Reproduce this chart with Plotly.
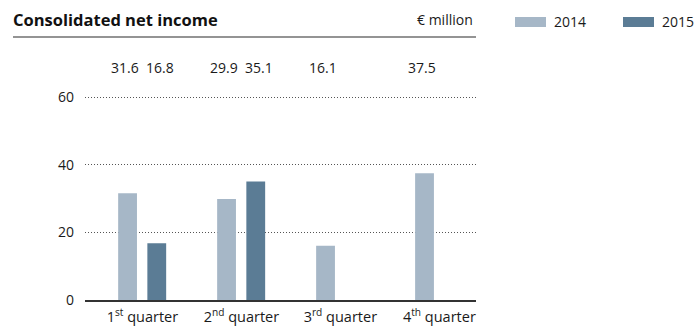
import plotly.graph_objects as go

# Quarterly consolidated net income, € million
quarters = ["1<sup>st</sup> quarter", "2<sup>nd</sup> quarter",
            "3<sup>rd</sup> quarter", "4<sup>th</sup> quarter"]
years = ["2014", "2015"]
income_2014 = [31.6, 29.9, 16.1, 37.5]
income_2015 = [16.8, 35.1, None, None]
y_ticks = [0, 20, 40, 60]

colors = {"2014": "#a6b7c7", "2015": "#5b7c95"}
FONT = "Open Sans"
TEXT = "#1a1a1a"

W, H = 696, 332
L, R, T, B = 85, 220, 94, 32
pw, ph = W - L - R, H - T - B


def px(x):
    """Pixel x -> paper x."""
    return (x - L) / pw


def py(y):
    """Pixel y (from top) -> paper y."""
    return (H - B - y) / ph


pos = list(range(len(quarters)))
bar_w = 0.19
offsets = {"2014": -0.245, "2015": 0.05}
series = {"2014": income_2014, "2015": income_2015}

fig = go.Figure()
for yr in years:
    fig.add_trace(go.Bar(
        x=pos, y=series[yr], width=bar_w, offset=offsets[yr],
        marker=dict(color=colors[yr], line=dict(width=0)),
        showlegend=False, hoverinfo="skip",
    ))

# Value labels in a row above the plot
label_shift = {"2014": -0.03, "2015": 0.03}
for yr in years:
    for p, v in zip(pos, series[yr]):
        if v is None:
            continue
        fig.add_annotation(
            x=p + offsets[yr] + bar_w / 2 + label_shift[yr], y=py(67),
            xref="x", yref="paper",
            text=f"{v:.1f}", showarrow=False, yanchor="middle",
            font=dict(family=FONT, size=14, color=TEXT),
        )

# Title, unit and the rule beneath them
fig.add_annotation(x=px(11), y=py(20), xref="paper", yref="paper",
                   text="<b>Consolidated net income</b>",
                   showarrow=False, xanchor="left", yanchor="middle",
                   font=dict(family=FONT, size=16.5, color="#111"))
fig.add_annotation(x=px(475), y=py(20), xref="paper", yref="paper", text="€ million",
                   showarrow=False, xanchor="right", yanchor="middle",
                   font=dict(family=FONT, size=14, color=TEXT))
fig.add_shape(type="line", xref="paper", yref="paper",
              x0=px(13), x1=px(476), y0=py(37), y1=py(37),
              line=dict(color="#707070", width=1.5))

# Legend drawn as swatches with labels
legend_x = {"2014": 515, "2015": 623}
for yr in years:
    x0 = legend_x[yr]
    fig.add_shape(type="rect", xref="paper", yref="paper",
                  x0=px(x0), x1=px(x0 + 31), y0=py(17), y1=py(27),
                  fillcolor=colors[yr], line=dict(width=0))
    fig.add_annotation(x=px(x0 + 37), y=py(22), xref="paper", yref="paper", text=yr,
                       showarrow=False, xanchor="left", yanchor="middle",
                       font=dict(family=FONT, size=14, color=TEXT))

fig.update_layout(
    width=W, height=H,
    margin=dict(l=L, r=R, t=T, b=B, autoexpand=False),
    paper_bgcolor="white", plot_bgcolor="white",
    font=dict(family=FONT, size=14, color=TEXT),
    barmode="overlay",
    xaxis=dict(
        range=[-0.58, 3.37], tickvals=pos, ticktext=quarters,
        showgrid=False, zeroline=False, showline=True,
        linecolor="#333", linewidth=1.5, ticks="", automargin=False,
        ticklabelstandoff=3,
        tickfont=dict(family=FONT, size=14.5, color=TEXT),
    ),
    yaxis=dict(
        range=[0, 61], tickvals=y_ticks, showgrid=True,
        gridcolor="#555", gridwidth=1, griddash="1px,2px",
        zeroline=False, showline=False, ticks="", automargin=False,
        ticklabelstandoff=10,
        tickfont=dict(family=FONT, size=14, color=TEXT),
    ),
)

fig.write_html("out.html")
